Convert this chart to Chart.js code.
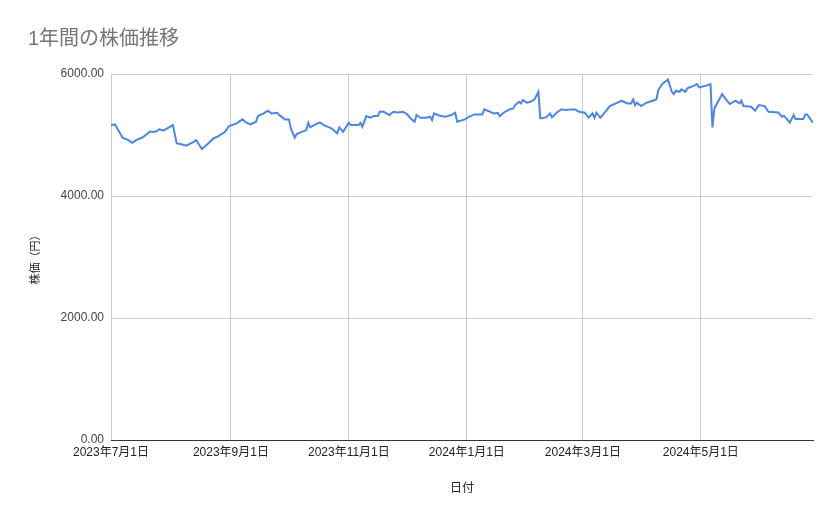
<!DOCTYPE html>
<html>
<head>
<meta charset="utf-8">
<script src="https://cdn.jsdelivr.net/npm/chart.js@4"></script>
<style>
  html, body { margin: 0; padding: 0; background: #fff; }
  #wrap { width: 839px; height: 519px; }
</style>
</head>
<body>
<div id="wrap"><canvas id="chart"></canvas></div>
<script>
// 日付と株価
const dates = [
  "2023-07-01","2023-07-03","2023-07-07","2023-07-10","2023-07-12","2023-07-14","2023-07-17","2023-07-19",
  "2023-07-21","2023-07-24","2023-07-26","2023-07-28","2023-07-31","2023-08-02","2023-08-04","2023-08-06",
  "2023-08-09","2023-08-12","2023-08-14","2023-08-17","2023-08-19","2023-08-23","2023-08-25","2023-08-29",
  "2023-08-31","2023-09-04","2023-09-07","2023-09-09","2023-09-11","2023-09-14","2023-09-15","2023-09-18",
  "2023-09-20","2023-09-22","2023-09-25","2023-09-26","2023-09-29","2023-10-01","2023-10-02","2023-10-04",
  "2023-10-05","2023-10-07","2023-10-10","2023-10-11","2023-10-12","2023-10-14","2023-10-17","2023-10-19",
  "2023-10-23","2023-10-26","2023-10-27","2023-10-29","2023-11-01","2023-11-02","2023-11-06","2023-11-07",
  "2023-11-08","2023-11-10","2023-11-12","2023-11-14","2023-11-16","2023-11-17","2023-11-19","2023-11-22",
  "2023-11-24","2023-11-26","2023-11-29","2023-12-01","2023-12-03","2023-12-05","2023-12-06","2023-12-08",
  "2023-12-11","2023-12-13","2023-12-14","2023-12-15","2023-12-18","2023-12-21","2023-12-24","2023-12-26",
  "2023-12-27","2023-12-31","2024-01-02","2024-01-05","2024-01-09","2024-01-10","2024-01-13","2024-01-15",
  "2024-01-17","2024-01-18","2024-01-20","2024-01-23","2024-01-25","2024-01-26","2024-01-28","2024-01-29",
  "2024-01-30","2024-02-01","2024-02-03","2024-02-05","2024-02-07","2024-02-08","2024-02-11","2024-02-13",
  "2024-02-14","2024-02-17","2024-02-19","2024-02-21","2024-02-24","2024-02-26","2024-02-28","2024-03-02",
  "2024-03-04","2024-03-06","2024-03-07","2024-03-08","2024-03-10","2024-03-13","2024-03-15","2024-03-18",
  "2024-03-21","2024-03-24","2024-03-26","2024-03-27","2024-03-28","2024-03-29","2024-03-31","2024-04-03",
  "2024-04-06","2024-04-08","2024-04-09","2024-04-11","2024-04-14","2024-04-16","2024-04-17","2024-04-18",
  "2024-04-20","2024-04-21","2024-04-23","2024-04-24","2024-04-26","2024-04-27","2024-04-29","2024-04-30",
  "2024-05-03","2024-05-06","2024-05-07","2024-05-08","2024-05-12","2024-05-14","2024-05-16","2024-05-19",
  "2024-05-21","2024-05-22","2024-05-23","2024-05-27","2024-05-29","2024-05-31","2024-06-03","2024-06-05",
  "2024-06-10","2024-06-12","2024-06-13","2024-06-16","2024-06-18","2024-06-19","2024-06-23","2024-06-24",
  "2024-06-25","2024-06-28"
];
const prices = [
  5160,5175,4955,4917,4873,4917,4955,5000,
  5053,5053,5092,5070,5125,5163,4862,4851,
  4824,4873,4917,4770,4824,4944,4971,5053,
  5147,5190,5256,5201,5174,5218,5310,5354,
  5397,5354,5365,5327,5256,5256,5109,4955,
  5015,5043,5081,5201,5125,5163,5207,5163,
  5109,5027,5125,5053,5201,5163,5163,5201,
  5136,5310,5283,5310,5310,5381,5381,5327,
  5381,5370,5381,5343,5272,5218,5327,5283,
  5283,5299,5245,5354,5316,5299,5327,5365,
  5218,5256,5299,5338,5338,5420,5381,5354,
  5365,5310,5365,5420,5436,5490,5545,5518,
  5573,5529,5545,5584,5709,5272,5288,5354,
  5288,5381,5420,5409,5420,5420,5381,5365,
  5283,5354,5283,5365,5283,5397,5474,5518,
  5562,5518,5518,5584,5490,5529,5474,5529,
  5562,5584,5737,5835,5912,5709,5671,5725,
  5709,5748,5709,5764,5791,5802,5835,5781,
  5802,5835,5125,5436,5671,5584,5507,5562,
  5518,5562,5474,5463,5397,5490,5474,5381,
  5370,5299,5316,5201,5327,5261,5261,5338,
  5338,5201
];
const tickDates = ["2023-07-01","2023-09-01","2023-11-01","2024-01-01","2024-03-01","2024-05-01"];
const tickLabels = ["2023年7月1日","2023年9月1日","2023年11月1日","2024年1月1日","2024年3月1日","2024年5月1日"];
const yTicks = [0, 2000, 4000, 6000];

const DAY = 86400000;
const start = Date.parse(dates[0]);
const toDay = d => Math.round((Date.parse(d) - start) / DAY);

const points = dates.map((d, i) => ({ x: toDay(d), y: prices[i] }));
const tickDays = tickDates.map(toDay);

const FONT = "'Liberation Sans', Arial, 'Noto Sans CJK JP', sans-serif";

const ctx = document.getElementById("chart").getContext("2d");
new Chart(ctx, {
  type: 'line',
  data: {
    datasets: [{
      label: '株価',
      data: points,
      borderColor: '#4a86e8',
      borderWidth: 2,
      pointRadius: 0,
      tension: 0,
      fill: false
    }]
  },
  options: {
    responsive: true,
    maintainAspectRatio: false,
    animation: false,
    layout: { padding: { left: 28, right: 26, top: 0, bottom: 0 } },
    plugins: {
      legend: { display: false },
      tooltip: { enabled: false },
      title: {
        display: true,
        text: '1年間の株価推移',
        align: 'start',
        color: '#757575',
        font: { family: FONT, size: 20, weight: 'normal' },
        padding: { top: 27, bottom: 23 }
      }
    },
    scales: {
      x: {
        type: 'linear',
        min: 0,
        max: toDay(dates[dates.length - 1]),
        afterBuildTicks: axis => { axis.ticks = tickDays.map(v => ({ value: v })); },
        afterFit: axis => { axis.height = 79; },
        grid: { color: '#cccccc', drawTicks: false },
        border: { color: '#333333' },
        ticks: {
          autoSkip: false,
          maxRotation: 0,
          padding: 5,
          color: '#222222',
          font: { family: FONT, size: 12 },
          callback: v => tickLabels[tickDays.indexOf(v)]
        },
        title: {
          display: true,
          text: '日付',
          color: '#222222',
          font: { family: FONT, size: 12 },
          padding: { top: 0, bottom: 23 }
        }
      },
      y: {
        min: 0,
        max: 6000,
        afterBuildTicks: axis => { axis.ticks = yTicks.map(v => ({ value: v })); },
        afterFit: axis => { axis.width = 83; },
        grid: {
          color: c => (c.tick && c.tick.value === 0) ? '#333333' : '#cccccc',
          drawTicks: false
        },
        border: { display: false },
        ticks: {
          padding: 7,
          color: '#444444',
          font: { family: FONT, size: 12 },
          callback: v => v.toFixed(2)
        },
        title: {
          display: true,
          text: '株価（円）',
          color: '#222222',
          font: { family: "'Noto Sans CJK JP', sans-serif", size: 11 },
          padding: { top: 0, bottom: 0 }
        }
      }
    }
  }
});
</script>
</body>
</html>
